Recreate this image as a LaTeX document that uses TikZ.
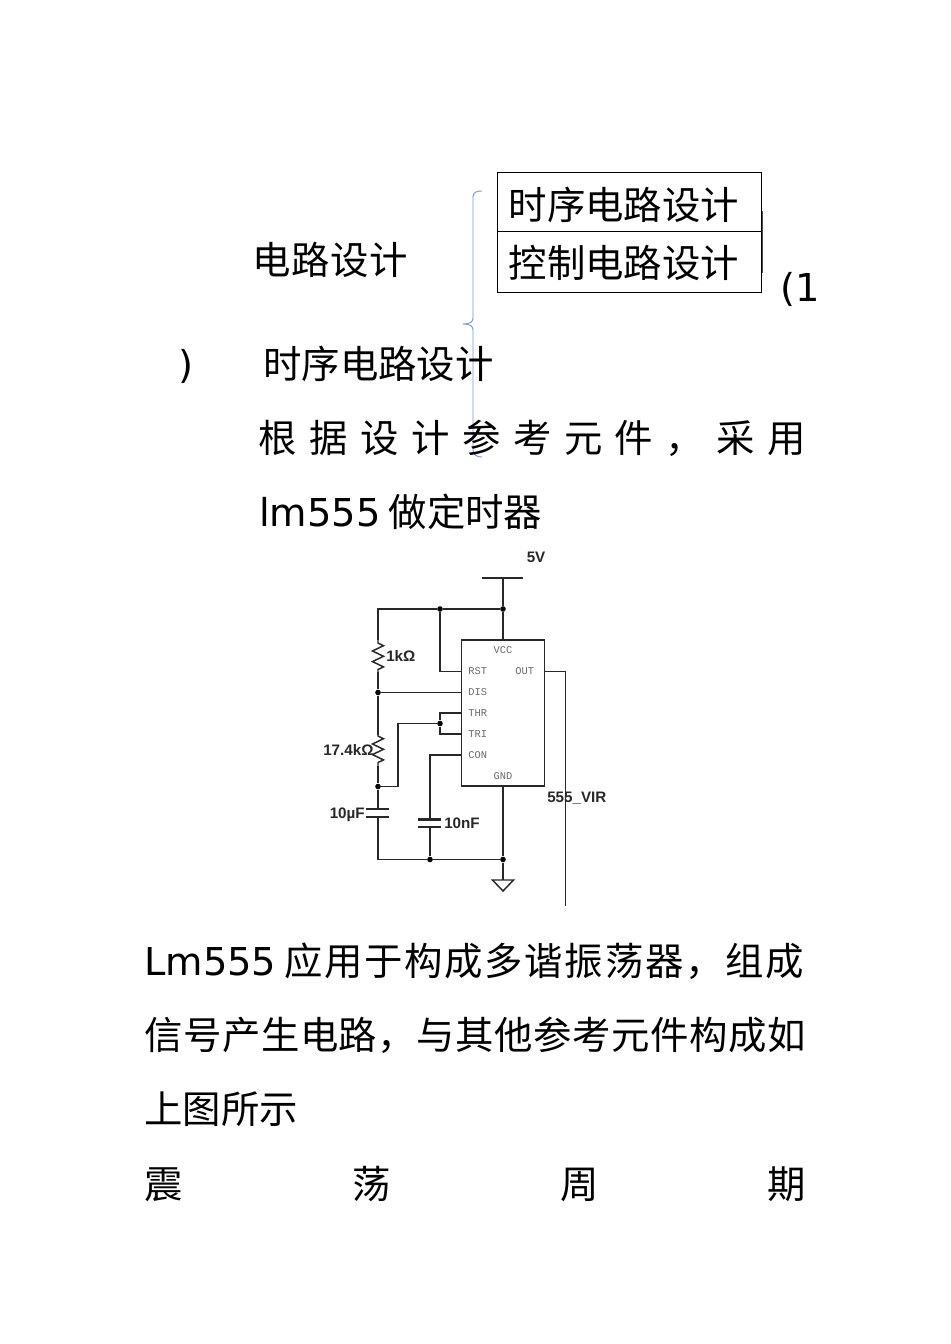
\documentclass[tikz,border=0pt]{standalone}
\usepackage{fontspec}
\usepackage{xcolor}
\setmainfont{DejaVu Sans}
\newfontfamily\cjk{Noto Sans CJK SC}
\newfontfamily\cjkc{Noto Sans CJK SC}[LetterSpace=4.4]
\newfontfamily\cjkd{Noto Sans CJK SC}[LetterSpace=1.4]
\newfontfamily\lab{Liberation Sans}[BoldFont={Liberation Sans Bold}]
\newfontfamily\pinf{Liberation Mono}
\definecolor{bracecol}{RGB}{125,150,200}
\definecolor{wirecol}{RGB}{40,40,40}
\definecolor{pincol}{RGB}{105,105,105}
\tikzset{
  body/.style={anchor=base west,inner sep=0pt,font=\fontsize{28.8}{34}\selectfont\cjk},
  latin/.style={anchor=base west,inner sep=0pt,font=\fontsize{28.8}{34}\selectfont},
  spread/.style={body,text width=#1,align=left},
  wire/.style={color=wirecol,line width=1.1pt},
  plate/.style={color=wirecol,line width=1.7pt},
  pin/.style={anchor=base west,inner sep=0pt,text=pincol,font=\fontsize{7.8}{9}\selectfont\pinf},
  val/.style={anchor=base west,inner sep=0pt,text=wirecol,font=\fontsize{11.4}{13}\selectfont\lab\bfseries},
  dot/.style={circle,fill=black,inner sep=0pt,minimum size=4.2pt},
}
\begin{document}
\begin{tikzpicture}[x=0.75pt,y=0.75pt,yscale=-1,xscale=1]
    \useasboundingbox (0,0) rectangle (950,1344);

    % boxes at the top
    \draw [line width=0.7pt]  (497.5,172) -- (761,172) -- (761,231) -- (497.5,231) -- cycle ;
    \draw [line width=0.7pt]  (497.5,231) -- (761,231) -- (761,292) -- (497.5,292) -- cycle ;
    \draw [line width=0.7pt,color=black!70]  (762,211) -- (762,273) ;
    \draw [color=bracecol,line width=0.7pt]  (482,191) .. controls (477,191) and (473,192) .. (473,197) -- (473,318) .. controls (473,322) and (470,324) .. (463,324) .. controls (470,324) and (473,326) .. (473,330) -- (473,450) .. controls (473,455) and (477,457) .. (482,457) ;

    \node (design) [body] at (252,275) {\cjkd 电路设计};
    \node (timing) [body] at (508.5,220) {时序电路设计};
    \node (control) [body] at (508.5,278) {控制电路设计};
    \node (numa) [latin] at (780,301) {(1};
    \node (numb) [latin] at (178,378) {)};
    \node (timingb) [body] at (263,378) {时序电路设计};
    \node (linea) [spread=411pt] at (258,452) {根\hfill 据\hfill 设\hfill 计\hfill 参\hfill 考\hfill 元\hfill 件\hfill ，\hfill 采\hfill 用};
    \node (lineb) [latin] at (259,526) {lm555\hspace{6pt}{\cjk 做定时器}};
    \node (linec) [latin] at (144,975) {Lm555\hspace{6pt}{\cjkc 应用于构成多谐振荡器，组成}};
    \node (lined) [body] at (144,1049) {\cjkd 信号产生电路，与其他参考元件构成如};
    \node (linee) [body] at (144,1123) {上图所示};
    \node (linef) [spread=496.5pt] at (144,1198) {震\hfill 荡\hfill 周\hfill 期};

    % circuit
    \coordinate (vl) at (482,578);
    \coordinate (vr) at (523,578);
    \coordinate (vt) at (503,578);
    \node (jv) [dot] at (503,609) {};
    \node (jr) [dot] at (440,609) {};
    \coordinate (tl) at (378,609);
    \coordinate (ra) at (378,640);
    \coordinate (rb) at (378,672);
    \node (jd) [dot] at (378,692.5) {};
    \coordinate (rc) at (378,735);
    \coordinate (rd) at (378,766);
    \node (jc) [dot] at (378,786.5) {};
    \coordinate (ca) at (378,809);
    \coordinate (cb) at (378,817);
    \coordinate (bl) at (378,859.5);
    \node (jb) [dot] at (430,859.5) {};
    \node (jg) [dot] at (503,859.5) {};
    \node (jt) [dot] at (440,723.5) {};
    \coordinate (da) at (430,819.5);
    \coordinate (db) at (430,827);
    \coordinate (ga) at (503,880);
    \coordinate (oe) at (565.5,906);

    \node (ic) [draw=wirecol,line width=1.1pt,minimum width=62.5pt,minimum height=109.5pt,inner sep=0pt] at (503,713) {};
    \coordinate (prst) at (461,671.5);
    \coordinate (pdis) at (461,692.5);
    \coordinate (pthr) at (461,713);
    \coordinate (ptri) at (461,734);
    \coordinate (pcon) at (461,755);
    \coordinate (pout) at (545,671.5);
    \coordinate (pvcc) at (503,640);
    \coordinate (pgnd) at (503,786);

    \draw [wire]  (vl) -- (vr) ;
    \draw [wire]  (vt) -- (jv) -- (pvcc) ;
    \draw [wire]  (jv) -- (jr) -- (tl) -- (ra) ;
    \draw [wire]  (jr) |- (prst) ;
    \draw [wire]  (ra) -- ++(0,3) -- ++(5.5,2.7) -- ++(-11,5.3) -- ++(11,5.3) -- ++(-11,5.3) -- ++(11,5.3) -- ++(-5.5,2.6) -- (rb) ;
    \draw [wire]  (rb) -- (jd) -- (rc) ;
    \draw [wire]  (jd) -- (pdis) ;
    \draw [wire]  (rc) -- ++(0,1) -- ++(5.5,2.7) -- ++(-11,5.3) -- ++(11,5.3) -- ++(-11,5.3) -- ++(11,5.3) -- ++(-5.5,2.6) -- (rd) ;
    \draw [wire]  (rd) -- (jc) -- (ca) ;
    \draw [wire]  (jc) -- (398,786.5) -- (398,723.5) -- (jt) ;
    \draw [wire]  (jt) |- (pthr) ;
    \draw [wire]  (jt) |- (ptri) ;
    \draw [plate]  ([xshift=-9pt]ca) -- ([xshift=8.5pt]ca) ;
    \draw [plate]  ([xshift=-9pt]cb) -- ([xshift=8.5pt]cb) ;
    \draw [wire]  (cb) -- (bl) -- (jb) -- (jg) ;
    \draw [wire]  (pcon) -| (da) ;
    \draw [plate]  ([xshift=-9pt]da) -- ([xshift=8.5pt]da) ;
    \draw [plate]  ([xshift=-9pt]db) -- ([xshift=8.5pt]db) ;
    \draw [wire]  (db) -- (jb) ;
    \draw [wire]  (pgnd) -- (jg) -- (ga) ;
    \draw [wire]  ([xshift=-7.9pt]ga) -- ([xshift=7.9pt]ga) -- (503,891) -- cycle ;
    \draw [wire]  (pout) -- (565.5,671.5) -- (oe) ;

    \node (lvcc) [pin,anchor=base] at (503,653) {VCC};
    \node (lrst) [pin] at (468,674) {RST};
    \node (lout) [pin] at (515,674) {OUT};
    \node (ldis) [pin] at (468,695) {DIS};
    \node (lthr) [pin] at (468,716) {THR};
    \node (ltri) [pin] at (468,737) {TRI};
    \node (lcon) [pin] at (468,758) {CON};
    \node (lgnd) [pin,anchor=base] at (503,779) {GND};

    \node (lfive) [val] at (526.5,562) {5V};
    \node (lra) [val] at (386,661) {1kΩ};
    \node (lrb) [val] at (323,755) {17.4kΩ};
    \node (lca) [val] at (329.5,818) {10µF};
    \node (lcb) [val] at (444,828) {10nF};
    \node (lnet) [val] at (547,802) {555\_VIR};
\end{tikzpicture}
\end{document}
